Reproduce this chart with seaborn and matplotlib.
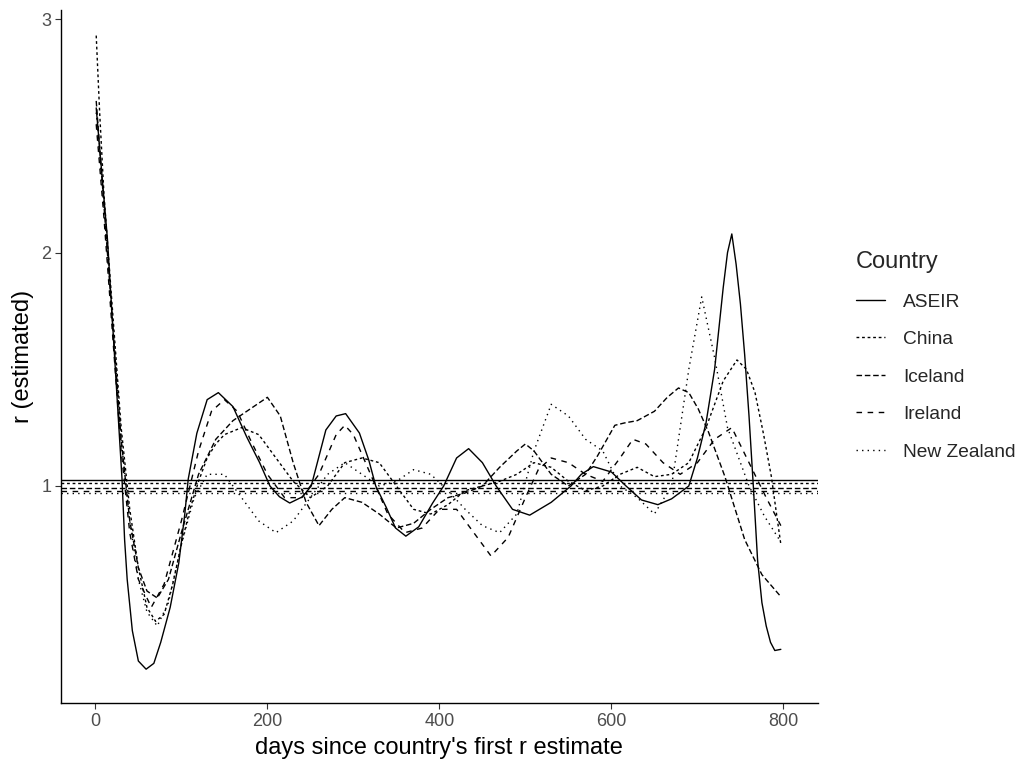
import matplotlib
matplotlib.use("Agg")
import matplotlib.pyplot as plt
import seaborn as sns
import pandas as pd

countries = ["ASEIR", "China", "Iceland", "Ireland", "New Zealand"]

aseir_days = [1, 14, 31, 34, 37, 43, 50, 59, 68, 76, 87, 97, 104, 108, 118, 130, 143, 160, 176, 191,
              203, 214, 226, 241, 251, 268, 280, 291, 307, 318, 326, 338, 349, 361, 376, 392, 405, 420,
              434, 450, 466, 485, 505, 530, 553, 565, 579, 600, 617, 635, 654, 670, 690, 700, 710, 720,
              730, 735, 740, 745, 750, 755, 760, 765, 770, 775, 780, 785, 790, 797]
aseir_r = [2.62, 2.06, 1.03, 0.77, 0.60, 0.38, 0.25, 0.215, 0.24, 0.33, 0.48, 0.67, 0.88, 1.03, 1.226,
           1.37, 1.40, 1.34, 1.21, 1.10, 1.00, 0.954, 0.927, 0.954, 1.00, 1.24, 1.30, 1.31, 1.227, 1.11,
           1.00, 0.91, 0.82, 0.785, 0.825, 0.926, 1.00, 1.12, 1.16, 1.10, 1.00, 0.90, 0.875, 0.93, 1.00,
           1.05, 1.083, 1.06, 1.00, 0.94, 0.92, 0.945, 1.00, 1.12, 1.27, 1.50, 1.85, 2.00, 2.08, 1.95,
           1.78, 1.56, 1.30, 1.00, 0.68, 0.50, 0.40, 0.33, 0.295, 0.30]

china_days = [1, 5, 10, 20, 30, 40, 50, 60, 70, 80, 90, 100, 110, 120, 130, 140, 150, 170, 190, 210, 230,
              250, 270, 290, 310, 330, 350, 370, 390, 410, 430, 450, 470, 490, 510, 530, 550, 570, 590, 610,
              630, 650, 670, 690, 710, 730, 746, 757, 767, 777, 786, 792, 797]
china_r = [2.93, 2.60, 2.25, 1.75, 1.25, 0.90, 0.65, 0.48, 0.42, 0.45, 0.58, 0.75, 0.90, 1.02, 1.12, 1.18,
           1.22, 1.25, 1.22, 1.12, 1.02, 0.95, 1.00, 1.10, 1.12, 1.10, 1.00, 0.90, 0.88, 0.92, 0.98, 1.00,
           1.02, 1.05, 1.10, 1.08, 1.02, 0.98, 1.00, 1.05, 1.08, 1.04, 1.05, 1.10, 1.25, 1.45, 1.54, 1.50,
           1.40, 1.22, 1.04, 0.88, 0.75]

iceland_days = [1, 10, 20, 30, 40, 50, 60, 72, 85, 100, 120, 140, 160, 180, 200, 215, 230, 245, 260, 275,
                290, 310, 330, 350, 370, 390, 410, 430, 450, 470, 490, 500, 510, 530, 550, 570, 584, 604,
                615, 630, 650, 665, 678, 690, 701, 713, 732, 755, 775, 796]
iceland_r = [2.65, 2.20, 1.70, 1.20, 0.85, 0.65, 0.55, 0.52, 0.60, 0.80, 1.05, 1.20, 1.28, 1.33, 1.38, 1.30,
             1.10, 0.93, 0.83, 0.90, 0.95, 0.93, 0.88, 0.82, 0.84, 0.90, 0.95, 0.97, 1.00, 1.08, 1.15, 1.18,
             1.15, 1.05, 1.00, 1.05, 1.13, 1.26, 1.27, 1.28, 1.32, 1.38, 1.42, 1.40, 1.33, 1.23, 1.04, 0.77,
             0.62, 0.53]

ireland_days = [1, 10, 20, 30, 40, 50, 65, 80, 100, 120, 135, 150, 165, 180, 200, 220, 240, 260, 280, 290,
                300, 320, 340, 360, 380, 400, 420, 440, 460, 480, 500, 515, 530, 550, 570, 590, 610, 625,
                640, 660, 680, 700, 720, 740, 760, 780, 797]
ireland_r = [2.55, 2.15, 1.65, 1.15, 0.80, 0.60, 0.48, 0.58, 0.85, 1.15, 1.32, 1.37, 1.32, 1.20, 1.05, 0.95,
             0.95, 1.05, 1.22, 1.26, 1.22, 1.05, 0.88, 0.80, 0.82, 0.90, 0.90, 0.80, 0.70, 0.78, 0.95, 1.07,
             1.12, 1.10, 1.05, 1.02, 1.12, 1.20, 1.18, 1.10, 1.05, 1.10, 1.20, 1.25, 1.10, 0.95, 0.83]

nz_days = [1, 10, 20, 30, 40, 50, 60, 72, 85, 100, 115, 130, 150, 170, 190, 210, 230, 250, 270, 290, 310,
           330, 350, 370, 390, 410, 430, 450, 470, 490, 510, 530, 550, 570, 590, 610, 630, 650, 670, 690,
           705, 720, 735, 747, 760, 778, 797]
nz_r = [2.60, 2.20, 1.70, 1.20, 0.85, 0.60, 0.46, 0.40, 0.50, 0.75, 0.95, 1.05, 1.05, 0.95, 0.85, 0.80,
        0.85, 0.95, 1.05, 1.10, 1.05, 1.00, 1.02, 1.07, 1.05, 0.98, 0.90, 0.83, 0.80, 0.88, 1.15, 1.35, 1.30,
        1.20, 1.15, 1.00, 0.95, 0.88, 1.00, 1.50, 1.81, 1.55, 1.25, 1.13, 1.00, 0.87, 0.76]

# mean r per country, drawn as reference lines
mean_r = [1.025, 1.013, 0.99, 0.98, 0.97]

x_ticks = [0, 200, 400, 600, 800]
y_ticks = [1, 2, 3]

series = {
    "ASEIR": (aseir_days, aseir_r),
    "China": (china_days, china_r),
    "Iceland": (iceland_days, iceland_r),
    "Ireland": (ireland_days, ireland_r),
    "New Zealand": (nz_days, nz_r),
}
df = pd.concat(
    [pd.DataFrame({"day": d, "r": r, "Country": name}) for name, (d, r) in series.items()],
    ignore_index=True,
)

# ggplot-style linetypes: solid, 22, 42, 44, 13
dash_map = {
    "ASEIR": "",
    "China": (2, 2),
    "Iceland": (4, 2),
    "Ireland": (4, 4),
    "New Zealand": (1, 3),
}

sns.set_theme(style="white")
plt.rcParams["font.family"] = ["Liberation Sans", "DejaVu Sans"]

fig = plt.figure(figsize=(10.21, 7.62), dpi=100)
ax = fig.add_axes([0.0597, 0.0774, 0.7413, 0.9096])

sns.lineplot(
    data=df, x="day", y="r", style="Country", style_order=countries, dashes=dash_map,
    color="black", linewidth=1.0, estimator=None, sort=False, ax=ax,
)
for line in ax.get_lines():
    line.set_solid_joinstyle("round")
    line.set_dash_joinstyle("round")

for name, m in zip(countries, mean_r):
    d = dash_map[name]
    ls = "-" if d == "" else (0, d)
    ax.axhline(m, color="black", linewidth=1.0, linestyle=ls)

ax.set_xlim(-40, 840)
ax.set_ylim(0.07, 3.04)
ax.set_xticks(x_ticks)
ax.set_yticks(y_ticks)
ax.tick_params(axis="both", which="both", direction="out", length=4, width=0.8,
               color="#333333", labelsize=13, labelcolor="#4D4D4D", pad=3,
               left=True, bottom=True)
for side in ["top", "right"]:
    ax.spines[side].set_visible(False)
for side in ["left", "bottom"]:
    ax.spines[side].set_color("black")
    ax.spines[side].set_linewidth(1.0)

ax.set_xlabel("days since country's first r estimate", fontsize=17, color="black", labelpad=5)
ax.set_ylabel("r (estimated)", fontsize=17, color="black", labelpad=5)

handles, labels = ax.get_legend_handles_labels()
ax.legend(
    handles, labels, title="Country", loc="upper left", bbox_to_anchor=(1.027, 0.677),
    frameon=False, fontsize=13.8, title_fontsize=17, handlelength=1.56,
    labelspacing=1.05, handletextpad=0.94, alignment="left",
)

fig.savefig("out.png", dpi=100, facecolor="white")
